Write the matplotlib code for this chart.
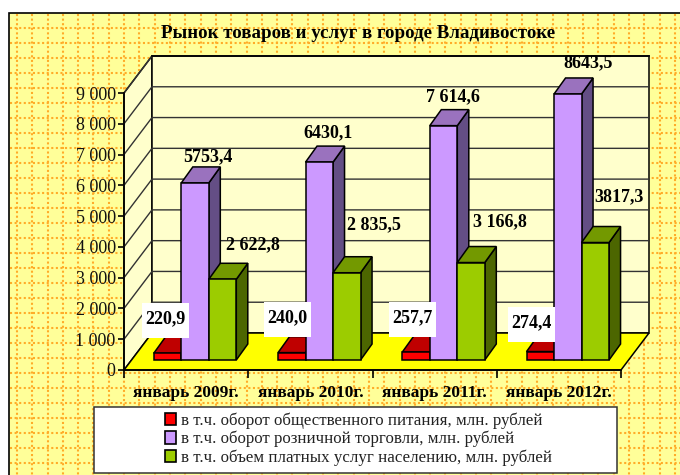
import matplotlib
matplotlib.use('Agg')
import matplotlib.pyplot as plt
from matplotlib.patches import Rectangle

categories = ['январь 2009г.', 'январь 2010г.', 'январь 2011г.', 'январь 2012г.']
food = [220.9, 240.0, 257.7, 274.4]
retail = [5753.4, 6430.1, 7614.6, 8643.5]
services = [2622.8, 2835.5, 3166.8, 3817.3]
food_labels = ['220,9', '240,0', '257,7', '274,4']
retail_labels = ['5753,4', '6430,1', '7 614,6', '8643,5']
services_labels = ['2 622,8', '2 835,5', '3 166,8', '3817,3']
yticks = [0, 1000, 2000, 3000, 4000, 5000, 6000, 7000, 8000, 9000]
ytick_labels = ['0', '1 000', '2 000', '3 000', '4 000', '5 000', '6 000', '7 000', '8 000', '9 000']
legend_names = ['в т.ч. оборот общественного питания, млн. рублей',
                'в т.ч. оборот розничной торговли, млн. рублей',
                'в т.ч. объем платных услуг населению, млн. рублей']

W, H = 680, 475
plt.rcParams['font.family'] = ['Liberation Serif', 'DejaVu Serif']
fig = plt.figure(figsize=(W / 100, H / 100), dpi=100)
fig.patch.set_facecolor('white')

# background panel in pixel coordinates
bg = fig.add_axes([0, 0, 1, 1], zorder=0)
bg.set_xlim(0, W)
bg.set_ylim(H, 0)
bg.axis('off')
bg.add_patch(Rectangle((9, 12.5), W, H, fc='#FFFF99', ec='black', lw=1.2))
dots = (0, (1.0, 1.2))
x = 17
while x < W:
    bg.plot([x, x], [14, H], color='#FFAC28', lw=1.5, ls=dots)
    x += 15.3
y = 27.5
while y < H:
    bg.plot([10, W], [y, y], color='#FFAC28', lw=1.5, ls=dots)
    y += 15

# front plane of the chart
x0, x1, y0, y9 = 124, 621, 370, 93
ax = fig.add_axes([x0 / W, 1 - y0 / H, (x1 - x0) / W, (y0 - y9) / H], zorder=1)
ax.set_xlim(0, 4)
ax.set_ylim(0, 9000)
ax.patch.set_alpha(0)
for s in ['top', 'right']:
    ax.spines[s].set_visible(False)
for s in ['left', 'bottom']:
    ax.spines[s].set_linewidth(1.2)
ax.set_yticks(yticks)
ax.set_yticklabels(ytick_labels, fontsize=13, color='#111111')
ax.set_xticks(range(5))
ax.set_xticklabels([])
ax.set_xticks([0.5, 1.5, 2.5, 3.5], minor=True)
ax.set_xticklabels(categories, minor=True, fontsize=12.5, fontweight='bold')
ax.tick_params(axis='y', length=4, width=1.2, pad=2)
ax.tick_params(axis='x', which='major', length=6, width=1.2)
ax.tick_params(axis='x', which='minor', length=0, pad=11)

ux = 4 / (x1 - x0)
uy = 9000 / (y0 - y9)


def shift(x, y, dx, dy):
    # oblique projection: pixel offset to data offset
    return x + dx * ux, y + dy * uy


def poly(pts, fc, ec='black', lw=1.1, z=2):
    ax.fill([p[0] for p in pts], [p[1] for p in pts], fc=fc, ec=ec, lw=lw,
            zorder=z, clip_on=False, joinstyle='miter')


# walls and floor
DX, DY = 28, 37
wall = '#FFFFCC'
poly([(0, 0), shift(0, 0, DX, DY), shift(0, 9000, DX, DY), (0, 9000)], wall)
poly([shift(0, 0, DX, DY), shift(4, 0, DX, DY), shift(4, 9000, DX, DY), shift(0, 9000, DX, DY)], wall)
poly([(0, 0), (4, 0), shift(4, 0, DX, DY), shift(0, 0, DX, DY)], '#FFFF00')
for t in yticks[1:]:
    ax.plot(*zip((0, t), shift(0, t, DX, DY), shift(4, t, DX, DY)), color='#333333', lw=1.0,
            zorder=2.5, clip_on=False)
ax.plot(*zip(shift(0, 9000, DX, DY), shift(4, 9000, DX, DY)), color='black', lw=1.2, zorder=2.5, clip_on=False)


def bar3d(left, right, val, front, side, top):
    fl, fb = shift(left, 0, 7.5, 10)
    fr = shift(right, 0, 7.5, 10)[0]
    ftop = fb + val
    d = (11.5, 16)
    poly([(fr, fb), shift(fr, fb, *d), shift(fr, ftop, *d), (fr, ftop)], side, z=3)
    poly([(fl, ftop), (fr, ftop), shift(fr, ftop, *d), shift(fl, ftop, *d)], top, z=3)
    poly([(fl, fb), (fr, fb), (fr, ftop), (fl, ftop)], front, z=3)


bw = 27.5 * ux
for i in range(4):
    start = i + 22.3 * ux
    bar3d(start, start + bw, food[i], '#FF0000', '#800000', '#BF0000')
    bar3d(start + bw, start + 2 * bw, retail[i], '#CC99FF', '#644E85', '#9A72BE')
    bar3d(start + 2 * bw, start + 3 * bw, services[i], '#9CCC00', '#4C6600', '#739900')

# texts over the chart, again in pixel coordinates
top = fig.add_axes([0, 0, 1, 1], zorder=3)
top.set_xlim(0, W)
top.set_ylim(H, 0)
top.axis('off')

top.text(358, 33, 'Рынок товаров и услуг в городе Владивостоке', fontsize=13.6,
         fontweight='bold', ha='center', va='center')

lab_size = 13
food_box = [(165.5, 320.5), (287.5, 319.5), (412.5, 319.5), (531.5, 324.5)]
retail_pos = [(208, 157), (328.5, 133), (453, 97), (588, 63)]
serv_pos = [(253, 245), (374, 225), (499.5, 222), (619, 197)]
for i in range(4):
    cx, cy = food_box[i]
    top.add_patch(Rectangle((cx - 23.5, cy - 17.5), 47, 35, fc='white', ec='none'))
    top.text(cx, cy - 2, food_labels[i], fontsize=lab_size, fontweight='bold', ha='center', va='center')
    top.text(*retail_pos[i], retail_labels[i], fontsize=lab_size, fontweight='bold', ha='center', va='center')
    top.text(*serv_pos[i], services_labels[i], fontsize=lab_size, fontweight='bold', ha='center', va='center')

# legend box
top.add_patch(Rectangle((94, 407), 523, 66, fc='white', ec='#333333', lw=1.1))
swatches = ['#FF0000', '#CC99FF', '#9CCC00']
handles = [Rectangle((0, 0), 1, 1, fc=c, ec='black', lw=1.2) for c in swatches]
top.legend(handles, legend_names, loc='center left', bbox_to_anchor=(157 / W, 1 - 439 / H),
           frameon=False, fontsize=12.2, labelspacing=0.12, handlelength=0.6, handleheight=0.75,
           handletextpad=0.3, borderpad=0, labelcolor='#222222')

plt.savefig('out.png', dpi=100)
